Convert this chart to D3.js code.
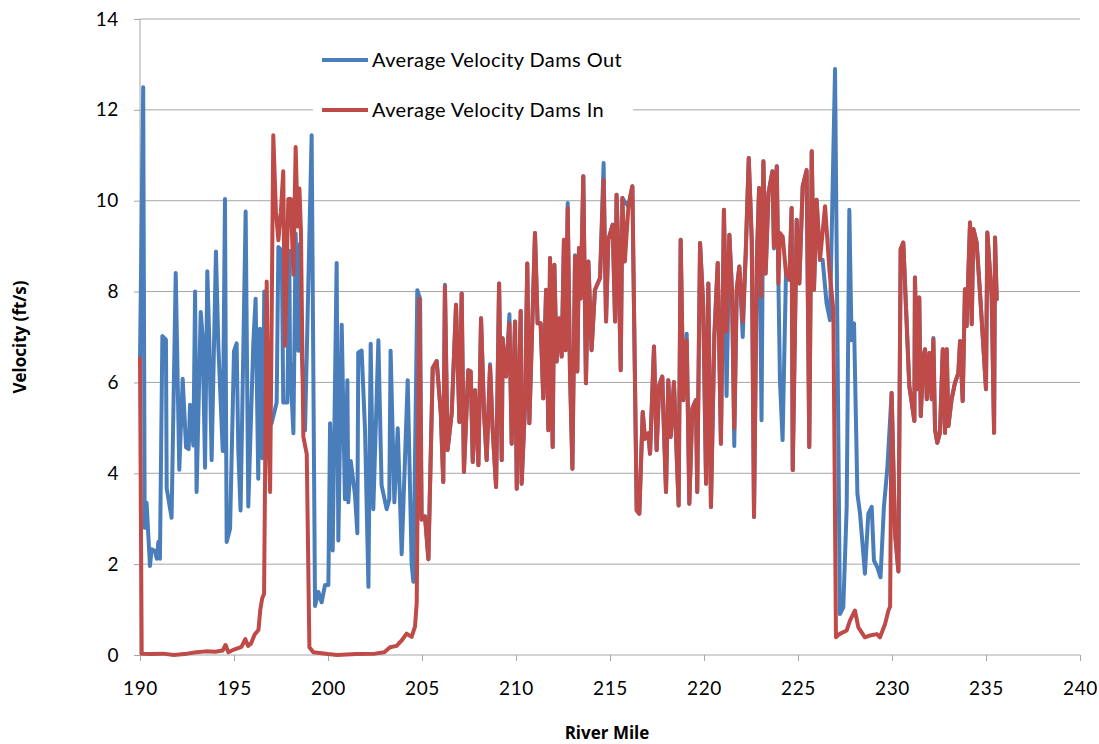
<!DOCTYPE html>
<html lang="en">
<head>
<meta charset="UTF-8">
<title>Average Velocity</title>
<style>
  body { margin: 0; background: #fff; }
  svg { display: block; }
  .axis text { font-family: Lato, "Open Sans", sans-serif; font-size: 19px; letter-spacing: 0.6px; fill: #000; }
  .axis path, .axis line { stroke: #a6a6a6; }
  .grid line { stroke: #a6a6a6; stroke-width: 1px; }
  .title { font-family: "Open Sans", Lato, sans-serif; font-weight: bold; font-size: 17px; }
  .legend text { font-family: Lato, "Open Sans", sans-serif; font-size: 20px; letter-spacing: 0.4px; }
  .series { fill: none; stroke-width: 4px; stroke-linejoin: round; stroke-linecap: round; }
</style>
<script src="https://cdn.jsdelivr.net/npm/d3@7"></script>
</head>
<body>
<script>
// [river mile, velocity ft/s]
const damsOut = [
  [190.0, 6.5], [190.17, 12.5], [190.25, 2.8], [190.35, 3.35], [190.53, 1.96], [190.62, 2.33], [190.8, 2.29],
  [190.89, 2.12], [190.98, 2.49], [191.06, 2.12], [191.19, 7.02], [191.38, 6.94], [191.42, 3.67], [191.68, 3.02],
  [191.9, 8.41], [192.09, 4.08], [192.27, 6.08], [192.45, 4.57], [192.59, 4.53], [192.66, 5.51], [192.84, 4.61],
  [192.93, 8.0], [193.01, 3.59], [193.23, 7.55], [193.33, 7.02], [193.46, 4.12], [193.58, 8.45], [193.69, 6.86],
  [193.81, 4.29], [194.04, 8.88], [194.17, 6.78], [194.4, 4.49], [194.52, 10.04], [194.61, 2.49], [194.79, 2.78],
  [195.0, 6.69], [195.14, 6.86], [195.23, 4.49], [195.35, 3.18], [195.62, 9.76], [195.76, 3.27], [196.03, 6.9],
  [196.15, 7.84], [196.29, 3.88], [196.38, 7.18], [196.51, 4.33], [196.61, 8.0], [196.74, 4.98], [197.0, 5.1],
  [197.27, 5.56], [197.36, 8.98], [197.54, 8.9], [197.62, 5.56], [197.84, 5.56], [197.94, 8.9], [197.98, 6.47],
  [198.16, 4.88], [198.28, 9.28], [198.42, 6.7], [198.51, 9.05], [198.6, 6.7], [198.78, 4.95], [199.13, 11.44],
  [199.31, 1.08], [199.49, 1.39], [199.66, 1.16], [199.84, 1.54], [200.02, 1.54], [200.11, 5.1], [200.25, 2.3],
  [200.46, 8.63], [200.55, 2.52], [200.73, 7.27], [200.9, 3.43], [201.03, 6.05], [201.08, 3.36], [201.21, 4.27],
  [201.44, 3.51], [201.56, 2.68], [201.61, 6.66], [201.79, 6.7], [201.97, 4.95], [202.15, 1.5], [202.27, 6.85],
  [202.41, 3.21], [202.68, 6.93], [202.85, 3.74], [203.12, 3.21], [203.26, 3.43], [203.33, 6.7], [203.53, 3.36],
  [203.71, 4.99], [203.92, 2.22], [204.24, 6.05], [204.45, 1.99], [204.54, 1.61], [204.75, 8.03], [204.9, 7.84],
  [204.98, 2.98], [205.16, 3.05], [205.34, 2.11], [205.57, 6.32], [205.78, 6.47], [206.0, 5.33], [206.13, 3.81],
  [206.22, 8.15], [206.36, 4.51], [206.58, 5.32], [206.81, 7.71], [206.99, 5.13], [207.11, 7.96], [207.23, 4.03],
  [207.46, 6.27], [207.59, 6.24], [207.7, 4.25], [207.82, 5.83], [208.0, 4.18], [208.14, 7.41], [208.3, 5.32],
  [208.44, 4.29], [208.62, 6.4], [208.76, 4.95], [208.94, 3.7], [209.1, 8.18], [209.24, 4.29], [209.29, 6.97],
  [209.47, 6.13], [209.65, 7.5], [209.77, 4.65], [209.95, 7.34], [210.04, 3.66], [210.25, 7.57], [210.3, 3.77],
  [210.48, 5.5], [210.6, 8.62], [210.71, 5.1], [211.01, 9.29], [211.15, 7.3], [211.31, 7.3], [211.45, 5.65],
  [211.6, 8.04], [211.72, 4.95], [211.81, 8.74], [211.95, 4.58], [212.04, 8.59], [212.16, 6.46], [212.31, 7.41],
  [212.43, 6.57], [212.55, 9.14], [212.64, 6.71], [212.75, 9.95], [212.87, 6.27], [213.0, 4.1], [213.14, 8.8],
  [213.26, 6.24], [213.35, 8.96], [213.44, 7.85], [213.58, 10.54], [213.72, 5.98], [213.85, 8.66], [214.02, 6.71],
  [214.2, 8.04], [214.47, 8.3], [214.66, 10.83], [214.79, 7.34], [214.91, 9.14], [215.14, 9.47], [215.27, 7.34],
  [215.35, 10.13], [215.44, 8.92], [215.57, 6.27], [215.66, 10.06], [215.79, 9.97], [215.98, 9.88], [216.19, 10.32],
  [216.42, 3.18], [216.56, 3.11], [216.74, 5.35], [216.86, 4.76], [217.04, 4.88], [217.13, 4.43], [217.34, 6.79],
  [217.48, 4.51], [217.62, 5.94], [217.78, 6.13], [217.87, 4.95], [217.98, 3.59], [218.1, 6.05], [218.23, 4.8],
  [218.4, 6.01], [218.65, 3.29], [218.76, 9.14], [218.9, 5.61], [219.08, 7.07], [219.22, 3.33], [219.38, 5.43],
  [219.57, 5.61], [219.64, 3.59], [219.79, 9.07], [219.96, 7.67], [220.11, 3.77], [220.23, 8.18], [220.37, 3.26],
  [220.55, 7.05], [220.73, 8.63], [220.9, 4.65], [221.06, 9.8], [221.2, 5.7], [221.35, 9.25], [221.49, 8.0],
  [221.61, 4.6], [221.74, 8.04], [221.88, 8.55], [222.06, 7.0], [222.22, 8.85], [222.38, 10.94], [222.54, 9.14],
  [222.66, 3.04], [222.81, 8.7], [222.93, 10.28], [223.06, 5.17], [223.16, 10.87], [223.28, 8.4], [223.43, 10.17],
  [223.64, 10.65], [223.72, 8.95], [223.87, 10.76], [223.96, 8.18], [224.04, 6.05], [224.18, 4.73], [224.36, 8.4],
  [224.54, 8.26], [224.66, 9.84], [224.72, 4.07], [224.93, 9.58], [225.07, 8.18], [225.25, 10.32], [225.46, 10.64],
  [225.6, 4.58], [225.73, 11.09], [225.85, 8.04], [225.99, 10.02], [226.17, 8.7], [226.31, 8.7], [226.52, 7.74],
  [226.7, 7.37], [226.97, 12.9], [227.23, 0.9], [227.41, 1.05], [227.59, 3.26], [227.73, 9.8], [227.85, 6.93],
  [227.98, 7.3], [228.16, 3.55], [228.3, 3.11], [228.56, 1.79], [228.74, 3.11], [228.92, 3.26], [229.04, 2.08],
  [229.22, 1.93], [229.39, 1.71], [229.57, 3.26], [229.75, 4.1], [229.98, 5.77], [230.16, 2.68], [230.34, 1.84],
  [230.46, 8.93], [230.6, 9.08], [230.92, 5.92], [231.19, 5.15], [231.22, 8.31], [231.35, 5.85], [231.45, 7.87],
  [231.53, 5.26], [231.67, 6.58], [231.76, 6.73], [231.85, 5.63], [231.99, 6.65], [232.11, 5.63], [232.2, 6.98],
  [232.29, 4.96], [232.41, 4.67], [232.55, 4.89], [232.7, 6.73], [232.82, 4.89], [232.91, 6.73], [233.0, 5.04],
  [233.17, 5.63], [233.35, 5.99], [233.53, 6.21], [233.62, 6.91], [233.76, 5.59], [233.88, 8.05], [233.97, 7.24],
  [234.15, 9.52], [234.24, 7.28], [234.33, 9.38], [234.5, 9.08], [234.68, 7.98], [235.0, 5.85], [235.07, 9.3],
  [235.3, 7.9], [235.43, 4.89], [235.48, 9.19], [235.57, 7.83]
];

const damsIn = [
  [190.0, 6.53], [190.09, 0.03], [190.6, 0.02], [191.2, 0.03], [191.8, 0.0], [192.5, 0.03], [193.0, 0.06],
  [193.5, 0.08], [194.0, 0.07], [194.4, 0.1], [194.55, 0.22], [194.7, 0.06], [195.0, 0.12], [195.4, 0.18],
  [195.6, 0.35], [195.75, 0.2], [195.9, 0.25], [196.1, 0.45], [196.3, 0.55], [196.4, 1.0], [196.5, 1.25],
  [196.6, 1.35], [196.65, 3.81], [196.74, 8.22], [196.83, 5.03], [196.92, 3.59], [197.09, 11.44], [197.23, 9.77],
  [197.36, 9.13], [197.49, 9.73], [197.62, 10.65], [197.71, 6.81], [197.89, 10.04], [198.02, 10.04], [198.16, 8.37],
  [198.28, 11.18], [198.39, 9.43], [198.48, 10.27], [198.56, 9.35], [198.69, 4.8], [198.87, 4.42], [199.01, 0.17],
  [199.22, 0.06], [200.0, 0.02], [200.5, 0.0], [201.5, 0.02], [202.5, 0.03], [203.0, 0.06], [203.3, 0.17],
  [203.65, 0.2], [203.92, 0.32], [204.18, 0.47], [204.45, 0.4], [204.63, 0.63], [204.72, 1.16], [204.86, 7.84],
  [204.98, 2.98], [205.16, 3.05], [205.34, 2.11], [205.57, 6.32], [205.78, 6.47], [206.0, 5.33], [206.13, 3.81],
  [206.22, 8.11], [206.36, 4.51], [206.58, 5.32], [206.81, 7.71], [206.99, 5.13], [207.11, 7.96], [207.23, 4.03],
  [207.46, 6.27], [207.59, 6.24], [207.7, 4.25], [207.82, 5.83], [208.0, 4.18], [208.14, 7.41], [208.3, 5.32],
  [208.44, 4.29], [208.62, 6.35], [208.76, 4.95], [208.94, 3.7], [209.1, 8.18], [209.24, 4.29], [209.29, 6.97],
  [209.47, 6.13], [209.65, 7.3], [209.77, 4.65], [209.95, 7.34], [210.04, 3.66], [210.25, 7.57], [210.3, 3.77],
  [210.48, 5.5], [210.6, 8.62], [210.71, 5.1], [211.01, 9.29], [211.15, 7.3], [211.31, 7.3], [211.45, 5.65],
  [211.6, 8.04], [211.72, 4.95], [211.81, 8.74], [211.95, 4.58], [212.04, 8.59], [212.16, 6.46], [212.31, 7.41],
  [212.43, 6.57], [212.55, 9.14], [212.64, 6.71], [212.75, 9.84], [212.87, 6.27], [213.0, 4.1], [213.14, 8.77],
  [213.26, 6.24], [213.35, 8.96], [213.44, 7.85], [213.58, 10.54], [213.72, 5.98], [213.85, 8.66], [214.02, 6.71],
  [214.2, 8.04], [214.47, 8.3], [214.66, 10.46], [214.79, 7.34], [214.91, 9.14], [215.14, 9.47], [215.27, 7.34],
  [215.35, 10.13], [215.44, 8.92], [215.57, 6.27], [215.66, 10.06], [215.79, 8.66], [215.98, 9.88], [216.19, 10.32],
  [216.42, 3.18], [216.56, 3.11], [216.74, 5.35], [216.86, 4.76], [217.04, 4.88], [217.13, 4.43], [217.34, 6.79],
  [217.48, 4.51], [217.62, 5.94], [217.78, 6.13], [217.87, 4.95], [217.98, 3.59], [218.1, 6.05], [218.23, 4.8],
  [218.4, 6.01], [218.65, 3.29], [218.76, 9.14], [218.9, 5.61], [219.08, 6.93], [219.22, 3.33], [219.38, 5.43],
  [219.57, 5.61], [219.64, 3.59], [219.79, 9.07], [219.96, 7.67], [220.11, 3.77], [220.23, 8.18], [220.37, 3.26],
  [220.55, 7.0], [220.73, 8.63], [220.9, 4.65], [221.06, 9.8], [221.2, 7.12], [221.35, 9.25], [221.49, 8.0],
  [221.61, 4.99], [221.74, 8.04], [221.88, 8.55], [222.06, 7.34], [222.22, 8.85], [222.38, 10.94], [222.54, 9.14],
  [222.66, 3.04], [222.81, 8.7], [222.93, 10.28], [223.04, 7.89], [223.16, 10.87], [223.28, 8.4], [223.43, 10.17],
  [223.64, 10.65], [223.72, 8.99], [223.87, 10.76], [223.96, 8.18], [224.04, 9.29], [224.19, 9.21], [224.36, 8.4],
  [224.54, 8.26], [224.66, 9.84], [224.72, 4.07], [224.93, 9.58], [225.07, 8.18], [225.25, 10.32], [225.46, 10.68],
  [225.6, 4.58], [225.73, 11.09], [225.85, 8.04], [225.99, 10.02], [226.17, 8.7], [226.44, 9.88], [226.67, 8.48],
  [226.88, 7.6], [227.02, 0.39], [227.2, 0.46], [227.59, 0.54], [227.77, 0.76], [228.03, 0.98], [228.21, 0.61],
  [228.56, 0.39], [228.83, 0.43], [229.19, 0.46], [229.36, 0.39], [229.63, 0.68], [229.81, 0.98], [229.9, 1.07],
  [229.98, 5.77], [230.16, 2.68], [230.34, 1.84], [230.46, 8.93], [230.6, 9.08], [230.92, 5.92], [231.19, 5.15],
  [231.22, 8.31], [231.35, 5.85], [231.45, 7.87], [231.53, 5.26], [231.67, 6.58], [231.76, 6.73], [231.85, 5.63],
  [231.99, 6.65], [232.11, 5.63], [232.2, 6.95], [232.29, 4.96], [232.41, 4.67], [232.55, 4.89], [232.7, 6.73],
  [232.82, 4.89], [232.91, 6.73], [233.0, 5.04], [233.17, 5.63], [233.35, 5.99], [233.53, 6.21], [233.62, 6.91],
  [233.76, 5.59], [233.88, 8.05], [233.97, 7.24], [234.15, 9.52], [234.24, 7.28], [234.33, 9.38], [234.5, 9.08],
  [234.68, 7.98], [235.0, 5.85], [235.07, 9.3], [235.3, 7.9], [235.43, 4.89], [235.48, 9.19], [235.57, 7.83]
];

const seriesNames = ["Average Velocity Dams Out", "Average Velocity Dams In"];
const seriesColors = ["#4a7ebb", "#be4b48"];
const xTicks = [190, 195, 200, 205, 210, 215, 220, 225, 230, 235, 240];
const yTicks = [0, 2, 4, 6, 8, 10, 12, 14];

const width = 1099, height = 744;
const margins = { top: 19, right: 19, bottom: 89, left: 140 };

const svg = d3.select("body").append("svg")
    .attr("width", width)
    .attr("height", height);

const xScale = d3.scaleLinear()
    .domain([190, 240])
    .range([margins.left, width - margins.right]);
const yScale = d3.scaleLinear()
    .domain([0, 14])
    .range([height - margins.bottom, margins.top]);

// horizontal gridlines
svg.append("g")
    .attr("class", "grid")
    .selectAll("line")
    .data(yTicks.filter(d => d > 0))
    .enter()
    .append("line")
    .attr("x1", margins.left)
    .attr("x2", width - margins.right)
    .attr("y1", d => yScale(d))
    .attr("y2", d => yScale(d));

// axes
const xAxis = d3.axisBottom(xScale).tickValues(xTicks).tickSize(6).tickPadding(21).tickFormat(d3.format("d"));
const yAxis = d3.axisLeft(yScale).tickValues(yTicks).tickSize(6).tickPadding(15).tickFormat(d3.format("d"));

svg.append("g")
    .attr("class", "axis")
    .attr("transform", `translate(0,${height - margins.bottom})`)
    .call(xAxis)
    .call(g => g.select(".domain").attr("d", `M${margins.left},0H${width - margins.right}`));

svg.append("g")
    .attr("class", "axis")
    .attr("transform", `translate(${margins.left},0)`)
    .call(yAxis)
    .call(g => g.select(".domain").attr("d", `M0,${height - margins.bottom}V${margins.top}`));

// lines
const lineGen = d3.line()
    .x(d => xScale(d[0]))
    .y(d => yScale(d[1]));

svg.append("g")
    .selectAll("path")
    .data([damsOut, damsIn])
    .enter()
    .append("path")
    .attr("class", "series")
    .attr("stroke", (d, i) => seriesColors[i])
    .attr("d", d => lineGen(d));

// legend (white box hides the gridline behind it)
const legend = svg.append("g").attr("class", "legend");
legend.append("rect")
    .attr("x", 313).attr("y", 40)
    .attr("width", 320).attr("height", 86)
    .attr("fill", "#fff");

const items = legend.selectAll("g.item")
    .data(seriesNames)
    .enter()
    .append("g")
    .attr("class", "item")
    .attr("transform", (d, i) => `translate(322,${60 + i * 50})`);
items.append("line")
    .attr("x1", 0).attr("x2", 46)
    .attr("stroke", (d, i) => seriesColors[i])
    .attr("stroke-width", 4);
items.append("text")
    .attr("x", 50)
    .attr("dy", "0.35em")
    .text(d => d);

// axis titles
svg.append("text")
    .attr("class", "title")
    .attr("x", (margins.left + width - margins.right) / 2 - 3)
    .attr("y", 739)
    .attr("text-anchor", "middle")
    .text("River Mile");

svg.append("text")
    .attr("class", "title")
    .attr("transform", `translate(26,${(margins.top + height - margins.bottom) / 2}) rotate(-90)`)
    .attr("text-anchor", "middle")
    .text("Velocity (ft/s)");
</script>
</body>
</html>
